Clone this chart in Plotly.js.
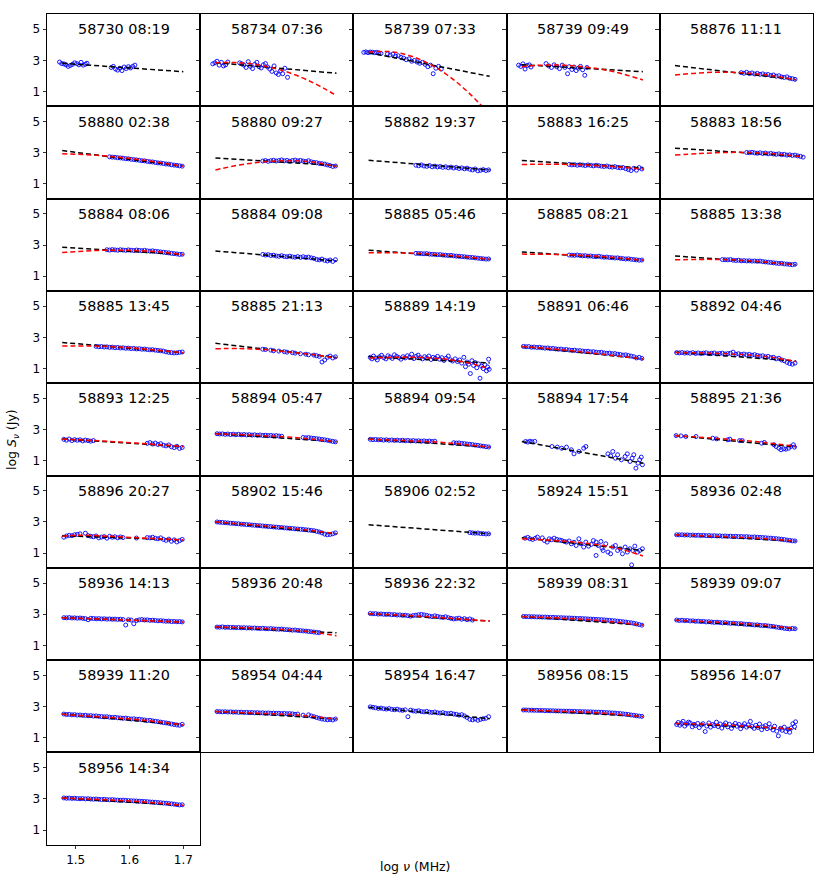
<!DOCTYPE html>
<html><head><meta charset="utf-8">
<script src="https://cdn.plot.ly/plotly-3.0.1.min.js"></script>
<style>html,body{margin:0;padding:0;background:#fff}#chart{width:830px;height:882px}</style>
</head><body><div id="chart"></div>
<script>
function gap(n){return new Array(n).fill(null);}

const titles = ["58730 08:19","58734 07:36","58739 07:33","58739 09:49","58876 11:11",
"58880 02:38","58880 09:27","58882 19:37","58883 16:25","58883 18:56",
"58884 08:06","58884 09:08","58885 05:46","58885 08:21","58885 13:38",
"58885 13:45","58885 21:13","58889 14:19","58891 06:46","58892 04:46",
"58893 12:25","58894 05:47","58894 09:54","58894 17:54","58895 21:36",
"58896 20:27","58902 15:46","58906 02:52","58924 15:51","58936 02:48",
"58936 14:13","58936 20:48","58936 22:32","58939 08:31","58939 09:07",
"58939 11:20","58954 04:44","58954 16:47","58956 08:15","58956 14:07",
"58956 14:34"];

const xTicks = [1.5, 1.6, 1.7];
const yTicks = [1, 3, 5];

// shared log-frequency channels (log MHz)
const chanX = [1.478,1.483,1.488,1.493,1.498,1.503,1.508,1.513,1.518,1.523,
1.528,1.533,1.538,1.543,1.548,1.553,1.558,1.563,1.568,1.573,
1.578,1.583,1.588,1.593,1.598,1.603,1.608,1.613,1.618,1.623,
1.628,1.633,1.638,1.643,1.648,1.653,1.658,1.663,1.668,1.673,
1.678,1.683,1.688,1.693,1.698];

const p1X = [1.470,1.474,1.478,1.482,1.486,1.490,1.494,1.498,1.502,1.506,1.510,1.514,1.518,1.521,
1.566,1.570,1.574,1.578,1.582,1.586,1.590,1.594,1.598,1.602,1.606,1.610];
const p1Y = [2.90,2.80,2.78,2.72,2.62,2.68,2.75,2.85,2.80,2.72,2.88,2.70,2.76,2.82,
2.55,2.62,2.45,2.38,2.50,2.35,2.58,2.48,2.60,2.52,2.62,2.70];
const p2X = [1.470,1.474,1.478,1.482,1.486,1.490,1.494,1.498,1.520,1.524,1.528,1.532,1.536,1.540,1.544,1.548,
1.552,1.556,1.560,1.564,1.568,1.572,1.576,1.580,1.584,1.588,1.592,1.596,1.600,1.604,1.609];
const p2Y = [2.78,2.85,2.95,2.70,2.88,2.65,2.72,2.90,2.85,2.78,2.70,2.55,2.92,2.62,2.48,2.75,
2.88,2.60,2.52,2.72,2.80,2.58,2.45,2.30,2.65,2.20,2.10,2.35,2.15,2.50,1.92];
const p3X = [1.466,1.470,1.474,1.478,1.482,1.486,1.490,1.494,1.498,1.510,1.515,1.520,1.525,1.530,1.535,
1.540,1.545,1.550,1.555,1.560,1.565,1.570,1.575,1.580,1.585,1.590,1.595,1.600,1.605,1.610];
const p3Y = [3.52,3.55,3.50,3.54,3.53,3.50,3.52,3.48,3.45,3.42,3.35,3.40,3.28,3.30,3.20,
3.15,3.05,3.10,2.95,3.00,2.90,2.82,2.88,2.75,2.60,2.70,2.15,2.50,2.62,2.45];
const p4X = [1.469,1.473,1.477,1.481,1.485,1.489,1.492,1.520,1.525,1.530,1.535,1.540,1.545,1.550,1.555,
1.560,1.563,1.568,1.572,1.576,1.580,1.584,1.588,1.592,1.596];
const p4Y = [2.70,2.62,2.78,2.45,2.68,2.72,2.58,2.80,2.65,2.55,2.72,2.60,2.48,2.70,2.55,
2.15,2.60,2.42,2.58,2.35,2.50,2.62,2.40,2.05,2.55];
const p10X = [1.608,1.613,1.618,1.623,1.628,1.633,1.638,1.643,1.648,1.653,1.658,1.663,1.668,1.673,1.678,
1.683,1.688,1.693,1.698,1.703,1.708,1.713];
const p10Y = [3.02,3.00,3.03,2.99,2.97,3.00,2.95,2.98,2.93,2.96,2.92,2.90,2.93,2.88,2.90,
2.85,2.87,2.83,2.85,2.80,2.77,2.72];
const p18X = [1.478,1.481,1.484,1.488,1.491,1.495,1.499,1.503,1.507,1.511,
1.515,1.519,1.523,1.527,1.531,1.535,1.539,1.543,1.547,1.551,
1.555,1.559,1.563,1.567,1.571,1.575,1.579,1.583,1.587,1.591,
1.595,1.599,1.603,1.607,1.611,1.615,1.619,1.623,1.627,1.631,
1.636,1.640,1.644,1.648,1.652,1.655,1.658,1.661,1.664,1.667,
1.670,1.673,1.676,1.679,1.682,1.685,1.688,1.691,1.694,1.696,1.698,1.699];
const p18Y = [1.72,1.62,1.80,1.68,1.55,1.75,1.85,1.70,1.62,1.82,
1.74,1.65,1.88,1.78,1.70,1.60,1.76,1.68,1.82,1.72,
1.92,1.64,1.78,1.86,1.70,1.62,1.76,1.68,1.80,1.58,
1.72,1.66,1.78,1.60,1.70,1.52,1.66,1.80,1.56,1.48,
1.62,1.45,1.55,1.35,1.72,1.12,1.42,1.28,0.68,1.50,
1.20,1.38,1.05,1.30,0.38,1.15,1.00,1.25,0.85,1.10,1.60,0.95];
const p24X = [1.482,1.486,1.490,1.494,1.499,
1.531,1.541,1.549,1.558,1.567,1.572,1.581,1.590,1.594,
1.635,1.640,1.644,1.649,1.653,1.660,1.667,1.671,1.676,1.680,1.683,1.687,1.691,1.694,1.697,1.699];
const p24Y = [2.24,2.20,2.26,2.22,2.25,
1.92,1.88,1.81,1.88,1.71,1.45,1.60,1.81,1.92,
1.45,1.32,1.60,1.17,1.39,1.07,1.28,1.45,0.96,1.17,1.39,0.53,0.85,1.07,1.24,0.75];
const p25X = [1.477,1.486,1.495,1.514,1.545,1.552,1.573,1.577,1.595,1.600,1.636,1.641,1.659,1.663,1.668,
1.672,1.677,1.681,1.686,1.690,1.695,1.697];
const p25Y = [2.62,2.60,2.56,2.56,2.45,2.41,2.35,2.39,2.30,2.30,2.13,2.18,2.03,1.92,1.81,
1.71,1.77,1.75,1.81,1.92,2.03,1.88];
const p29X = [1.481,1.486,1.490,1.495,1.500,1.504,1.513,1.517,1.522,1.526,
1.530,1.535,1.540,1.545,1.549,1.554,1.558,1.563,1.567,1.572,
1.576,1.581,1.585,1.590,1.594,1.599,1.604,1.608,1.613,1.613,
1.617,1.622,1.624,1.626,1.631,1.635,1.640,1.644,1.649,1.653,
1.658,1.662,1.667,1.671,1.676,1.679,1.681,1.685,1.690,1.694,1.699];
const p29Y = [1.96,2.01,1.92,1.88,1.95,2.03,1.98,1.81,1.71,1.92,
1.86,1.96,1.88,1.84,1.81,1.75,1.71,1.78,1.60,1.70,
1.49,1.92,1.60,1.39,1.71,1.45,1.56,1.81,1.71,0.85,
1.49,1.75,1.32,1.17,1.60,1.07,0.96,1.39,1.49,1.17,
1.28,0.96,1.39,1.07,1.28,0.25,1.17,1.45,1.07,1.17,1.28];
const p40X = [1.478,1.481,1.484,1.487,1.490,1.493,1.497,1.500,1.503,1.507,
1.510,1.513,1.517,1.520,1.524,1.527,1.531,1.534,1.538,1.541,
1.545,1.548,1.552,1.555,1.559,1.562,1.566,1.569,1.573,1.576,
1.580,1.583,1.587,1.590,1.594,1.597,1.601,1.604,1.608,1.611,
1.615,1.618,1.622,1.625,1.629,1.632,1.636,1.639,1.643,1.646,
1.650,1.653,1.657,1.660,1.664,1.667,1.671,1.674,1.678,1.681,
1.685,1.688,1.691,1.694,1.697,1.699];
const p40Y = [1.85,1.98,1.80,1.92,2.05,1.75,1.88,2.00,1.95,1.70,
1.86,1.78,1.92,1.65,1.82,1.90,1.40,1.75,1.95,1.68,
1.85,1.78,2.00,1.72,1.88,1.62,1.82,1.95,1.70,1.86,
1.60,1.78,1.92,1.74,1.85,1.58,1.76,1.90,1.68,1.82,
2.05,1.72,1.60,1.80,1.66,1.88,1.52,1.70,1.78,1.58,
1.90,1.64,1.50,1.74,1.42,1.12,1.60,1.48,1.68,1.40,
1.55,1.35,1.62,1.90,1.72,2.02];

const pointsX = [p1X,p2X,p3X,p4X,chanX, chanX,chanX,chanX,chanX,p10X,
chanX,chanX,chanX,chanX,chanX, chanX,chanX,p18X,chanX,chanX,
chanX,chanX,chanX,p24X,p25X, chanX,chanX,chanX,p29X,chanX,
chanX,chanX,chanX,chanX,chanX, chanX,chanX,chanX,chanX,p40X, chanX];

const pointsY = [
p1Y, p2Y, p3Y, p4Y,
[...gap(24),2.22,2.18,2.24,2.16,2.20,2.13,2.17,2.11,2.14,2.08,2.10,2.03,2.07,1.99,2.02,1.94,1.91,1.95,1.86,1.83,1.79],
[...gap(17),2.74,2.72,2.71,2.68,2.67,2.65,2.62,2.61,2.58,2.56,2.54,2.52,2.49,2.48,2.45,2.42,2.41,2.38,2.35,2.34,2.31,2.28,2.27,2.23,2.21,2.19,2.16,2.14],
[...gap(17),2.47,2.50,2.45,2.49,2.52,2.47,2.50,2.54,2.48,2.51,2.46,2.50,2.53,2.48,2.51,2.47,2.44,2.49,2.42,2.38,2.36,2.32,2.30,2.27,2.22,2.18,2.12,2.15],
[...gap(17),2.20,2.17,2.22,2.15,2.13,2.18,2.10,2.14,2.09,2.12,2.06,2.10,2.04,2.08,2.02,2.06,1.99,2.03,1.97,2.01,1.94,1.90,1.96,1.84,1.88,1.92,1.86,1.90],
[...gap(17),2.25,2.22,2.24,2.20,2.23,2.21,2.18,2.22,2.19,2.16,2.20,2.17,2.14,2.12,2.15,2.10,2.08,2.11,2.06,2.03,2.05,1.98,1.92,1.86,2.00,1.88,2.05,1.96],
p10Y,
[...gap(16),2.70,2.68,2.71,2.69,2.67,2.70,2.68,2.66,2.69,2.67,2.65,2.68,2.66,2.64,2.66,2.63,2.61,2.63,2.60,2.58,2.56,2.54,2.52,2.50,2.47,2.45,2.43,2.40,2.41],
[...gap(17),2.40,2.36,2.38,2.33,2.35,2.30,2.28,2.32,2.27,2.25,2.29,2.24,2.22,2.26,2.21,2.25,2.20,2.23,2.18,2.14,2.08,2.05,2.10,2.02,1.98,2.04,1.95,2.06],
[...gap(17),2.47,2.46,2.45,2.44,2.45,2.42,2.41,2.40,2.38,2.39,2.36,2.35,2.33,2.34,2.31,2.29,2.28,2.26,2.25,2.23,2.21,2.20,2.18,2.16,2.14,2.12,2.10,2.11],
[...gap(17),2.36,2.35,2.34,2.36,2.33,2.31,2.32,2.29,2.30,2.27,2.26,2.28,2.24,2.22,2.23,2.20,2.19,2.17,2.18,2.15,2.13,2.11,2.12,2.09,2.07,2.05,2.03,2.04],
[...gap(17),2.07,2.06,2.05,2.07,2.03,2.01,2.03,1.99,2.00,1.98,1.99,1.97,1.98,1.96,1.97,1.94,1.92,1.90,1.88,1.86,1.84,1.82,1.83,1.79,1.78,1.76,1.74,1.77],
[...gap(12),2.42,2.40,2.41,2.38,2.39,2.36,2.37,2.34,2.35,2.32,2.33,2.30,2.31,2.28,2.29,2.26,2.27,2.24,2.25,2.22,2.20,2.21,2.18,2.16,2.14,2.12,2.07,2.04,2.02,2.00,2.01,2.04,2.06],
[...gap(17),2.24,2.22,null,2.18,2.14,null,2.12,null,2.08,2.05,null,2.02,1.99,null,1.95,null,1.92,1.88,null,1.86,1.82,1.78,1.42,1.55,1.72,1.80,1.68,1.75],
p18Y,
[2.42,2.40,2.41,2.37,2.38,2.35,2.36,2.33,2.31,2.32,2.28,2.29,2.26,2.24,2.25,2.21,2.22,2.19,2.17,2.18,2.14,2.15,2.12,2.10,2.11,2.07,2.08,2.05,2.03,2.04,2.00,1.98,1.99,1.95,1.96,1.92,1.90,1.86,1.88,1.83,1.80,1.76,1.68,1.72,1.65],
[2.02,2.00,2.03,1.99,2.01,1.98,2.02,1.97,2.00,1.96,1.99,2.01,1.95,1.98,2.00,1.94,1.97,1.99,1.93,1.96,1.98,2.05,1.92,1.95,1.90,1.93,1.88,1.91,1.86,1.89,1.84,1.80,1.82,1.75,1.78,1.70,1.72,1.62,1.66,1.55,1.50,1.40,1.32,1.28,1.35],
[2.38,2.33,2.40,2.30,2.36,2.32,2.35,2.28,2.33,2.30,2.26,2.30,...gap(19),2.12,2.17,2.08,2.14,2.05,2.10,2.00,1.96,2.02,1.90,1.85,1.93,1.80,1.86],
[2.74,2.72,2.73,2.70,2.72,2.69,2.71,2.68,2.70,2.67,2.69,2.66,2.68,2.65,2.67,2.64,2.66,2.63,2.64,2.62,2.63,2.60,2.62,2.59,2.58,...gap(7),2.50,2.48,2.49,2.46,2.44,2.42,2.40,2.37,2.35,2.32,2.28,2.25,2.22],
[2.38,2.36,2.37,2.35,2.36,2.33,2.35,2.32,2.34,2.31,2.33,2.30,2.32,2.29,2.31,2.28,2.30,2.27,2.29,2.26,2.28,2.25,2.27,2.24,2.26,...gap(6),2.16,2.14,2.15,2.12,2.10,2.08,2.06,2.04,2.01,1.99,1.96,1.94,1.91,1.89],
p24Y, p25Y,
[2.02,2.10,2.14,2.12,2.18,2.20,2.24,null,2.28,2.12,2.08,2.05,2.10,1.98,2.03,2.06,1.96,2.08,2.02,2.05,1.98,2.04,2.00,null,null,null,null,1.97,null,null,null,2.00,1.98,2.02,1.95,1.92,1.98,1.88,1.82,1.90,1.76,1.85,1.72,1.80,1.88],
[3.00,2.98,2.97,2.95,2.94,2.92,2.91,2.89,2.88,2.86,2.85,2.83,2.82,2.80,2.79,2.77,2.76,2.74,2.73,2.71,2.70,2.68,2.67,2.65,2.64,2.62,2.61,2.59,2.58,2.56,2.55,2.53,2.52,2.50,2.48,2.46,2.44,2.40,2.36,2.30,2.22,2.18,2.20,2.24,2.30],
[...gap(37),2.32,2.30,2.28,2.29,2.26,2.25,2.23,2.24],
p29Y,
[2.18,2.17,2.18,2.16,2.17,2.15,2.16,2.14,2.15,2.13,2.14,2.12,2.13,2.11,2.12,2.10,2.11,2.09,2.10,2.08,2.09,2.07,2.08,2.06,2.07,2.05,2.06,2.04,2.03,2.04,2.02,2.01,2.00,1.99,1.97,1.96,1.94,1.93,1.91,1.89,1.87,1.84,1.82,1.79,1.78],
[2.78,2.77,2.79,2.76,2.77,2.75,2.76,2.74,2.72,2.65,2.74,2.73,2.71,2.72,2.70,2.71,2.69,2.70,2.68,2.69,2.67,2.68,2.66,2.31,2.65,2.63,2.39,2.60,2.64,2.66,2.63,2.64,2.61,2.62,2.60,2.58,2.59,2.57,2.55,2.56,2.53,2.54,2.52,2.53,2.51],
[2.18,2.17,2.19,2.16,2.17,2.15,2.16,2.14,2.15,2.13,2.14,2.12,2.13,2.11,2.12,2.10,2.09,2.10,2.08,2.07,2.08,2.06,2.05,2.04,2.05,2.02,2.01,2.00,1.98,1.99,1.96,1.95,1.93,1.92,1.90,1.88,1.86,1.84,1.82,...gap(6)],
[3.05,3.03,3.04,3.01,3.02,3.00,2.99,3.00,2.97,2.98,2.95,2.96,2.93,2.94,2.91,2.88,2.92,2.94,2.97,2.99,2.96,2.93,2.88,2.85,2.90,2.86,2.82,2.80,2.84,2.78,2.74,2.70,2.72,2.75,2.68,2.72,2.65,2.70,2.63,...gap(6)],
[2.86,2.85,2.85,2.84,2.84,2.83,2.83,2.82,2.82,2.81,2.80,2.80,2.79,2.78,2.78,2.77,2.76,2.76,2.75,2.74,2.73,2.73,2.72,2.71,2.70,2.69,2.68,2.67,2.66,2.65,2.64,2.62,2.61,2.59,2.58,2.56,2.54,2.52,2.50,2.47,2.45,2.42,2.38,2.34,2.30],
[2.63,2.60,2.62,2.59,2.60,2.57,2.58,2.55,2.56,2.53,2.54,2.51,2.52,2.50,2.48,2.49,2.47,2.45,2.46,2.44,2.42,2.43,2.41,2.39,2.40,2.37,2.35,2.36,2.33,2.31,2.32,2.29,2.27,2.28,2.25,2.23,2.21,2.18,2.15,2.13,2.10,2.08,2.06,2.09,2.07],
[2.52,2.49,2.50,2.47,2.48,2.45,2.46,2.43,2.44,2.41,2.42,2.39,2.40,2.37,2.36,2.34,2.35,2.32,2.30,2.31,2.28,2.27,2.25,2.26,2.23,2.20,2.22,2.18,2.19,2.16,2.14,2.10,2.12,2.08,2.06,2.03,2.00,1.97,1.95,1.92,1.88,1.85,1.82,1.80,1.86],
[2.68,2.67,2.66,2.67,2.65,2.66,2.64,2.65,2.63,2.64,2.62,2.63,2.61,2.62,2.60,2.61,2.59,2.60,2.58,2.59,2.57,2.58,2.56,2.57,2.55,2.56,2.54,2.55,2.53,2.50,2.52,null,2.45,null,2.47,2.40,2.35,2.30,2.25,2.20,2.18,2.15,2.17,2.14,2.20],
[2.98,2.95,2.92,2.88,2.90,2.86,2.84,2.87,2.82,2.80,2.83,2.78,2.76,2.79,2.35,2.77,2.72,2.70,2.73,2.68,2.66,2.69,2.64,2.62,2.65,2.60,2.58,2.61,2.56,2.54,2.57,2.52,2.50,2.45,2.48,2.40,2.30,2.18,2.15,2.20,2.12,2.18,2.22,2.25,2.35],
[2.78,2.78,2.77,2.77,2.76,2.76,2.75,2.75,2.74,2.74,2.73,2.73,2.72,2.72,2.71,2.71,2.70,2.70,2.69,2.69,2.68,2.68,2.67,2.67,2.66,2.66,2.65,2.64,2.64,2.63,2.62,2.61,2.60,2.59,2.58,2.56,2.55,2.53,2.51,2.49,2.46,2.44,2.41,2.39,2.37],
p40Y,
[3.06,3.04,3.05,3.03,3.04,3.02,3.01,3.02,3.00,3.01,2.99,2.98,2.99,2.97,2.96,2.97,2.95,2.94,2.95,2.93,2.92,2.91,2.92,2.90,2.89,2.88,2.87,2.86,2.85,2.84,2.83,2.82,2.80,2.79,2.78,2.76,2.75,2.73,2.72,2.70,2.68,2.66,2.63,2.61,2.62]
];

// linear (power-law) fit: endpoints
const fitXStart = 1.475;
const fitXEnd = [1.70,1.70,1.70,1.70,1.70, 1.70,1.70,1.70,1.70,1.713,
1.70,1.70,1.70,1.70,1.70, 1.70,1.70,1.70,1.70,1.70, 1.70,1.70,1.70,1.70,1.70,
1.70,1.70,1.70,1.70,1.70, 1.70,1.70,1.70,1.70,1.70, 1.70,1.70,1.70,1.70,1.70, 1.70];
const linY0 = [2.82,2.86,3.50,2.73,2.67, 3.14,2.67,2.52,2.50,3.29, 2.86,2.62,2.67,2.56,2.30,
2.67,2.62,1.76,2.42,2.05, 2.40,2.75,2.40,2.24,2.62, 2.12,3.00,2.82,1.98,2.18,
2.78,2.18,3.03,2.86,2.62, 2.52,2.68,2.95,2.79,1.92, 3.06];
const linY1 = [2.28,2.18,1.98,2.28,1.77, 2.13,2.18,1.90,2.03,2.76, 2.39,1.98,2.09,2.03,1.75,
2.01,1.71,1.36,1.62,1.48, 1.92,2.23,1.88,0.85,1.90, 1.85,2.25,2.24,1.17,1.77,
2.50,1.81,2.56,2.30,2.08, 1.82,2.20,2.22,2.36,1.55, 2.58];

// curved fit: points
const curveX = [
null,
[1.475,1.52,1.56,1.60,1.633,1.66,1.68,1.70],
[1.475,1.50,1.52,1.54,1.56,1.58,1.60,1.62,1.64,1.66,1.68,1.70],
[1.475,1.50,1.55,1.60,1.65,1.70],
[1.475,1.52,1.56,1.60,1.65,1.70],
[1.475,1.52,1.56,1.60,1.65,1.70],
[1.475,1.52,1.56,1.60,1.64,1.67,1.70],
null,
[1.475,1.55,1.60,1.65,1.70],
[1.475,1.52,1.57,1.62,1.66,1.713],
[1.475,1.52,1.56,1.60,1.65,1.70],
null,
[1.475,1.56,1.62,1.70],
[1.475,1.56,1.62,1.70],
[1.475,1.55,1.62,1.70],
[1.475,1.56,1.62,1.70],
[1.475,1.52,1.57,1.62,1.66,1.70],
[1.478,1.53,1.58,1.63,1.67,1.70],
[1.475,1.55,1.62,1.70],
[1.475,1.55,1.62,1.66,1.70],
[1.475,1.55,1.62,1.70],
[1.475,1.55,1.62,1.70],
[1.475,1.55,1.62,1.70],
null,
[1.475,1.56,1.64,1.70],
[1.475,1.50,1.55,1.62,1.70],
[1.475,1.55,1.62,1.70],
null,
[1.475,1.55,1.62,1.66,1.70],
[1.475,1.55,1.62,1.70],
[1.475,1.58,1.70],
[1.475,1.55,1.60,1.65,1.70],
[1.475,1.55,1.62,1.70],
[1.475,1.55,1.62,1.70],
[1.475,1.55,1.62,1.70],
[1.475,1.55,1.62,1.70],
[1.475,1.55,1.62,1.70],
null,
[1.475,1.55,1.62,1.70],
[1.475,1.55,1.62,1.70],
[1.475,1.55,1.62,1.70]
];
const curveY = [
null,
[2.85,2.86,2.69,2.35,1.94,1.51,1.15,0.74],
[3.55,3.58,3.55,3.42,3.21,2.92,2.55,2.10,1.57,0.96,0.27,-0.50],
[2.60,2.68,2.70,2.55,2.25,1.75],
[2.07,2.20,2.25,2.21,2.05,1.76],
[2.93,2.88,2.78,2.64,2.41,2.13],
[1.90,2.22,2.40,2.49,2.46,2.33,2.11],
null,
[2.25,2.26,2.20,2.10,1.95],
[2.85,2.95,3.02,3.01,2.93,2.74],
[2.52,2.62,2.67,2.66,2.58,2.38],
null,
[2.50,2.48,2.35,2.10],
[2.42,2.38,2.27,2.03],
[2.05,2.08,1.98,1.72],
[2.45,2.42,2.28,2.02],
[2.27,2.28,2.20,2.02,1.88,1.66],
[1.68,1.73,1.70,1.55,1.28,0.98],
[2.42,2.20,1.94,1.62],
[2.03,1.98,1.85,1.70,1.45],
[2.40,2.27,2.12,1.92],
[2.74,2.64,2.50,2.22],
[2.39,2.29,2.16,1.88],
null,
[2.62,2.42,2.18,1.92],
[2.08,2.15,2.10,1.98,1.85],
[3.00,2.80,2.58,2.25],
null,
[1.92,1.78,1.52,1.25,0.82],
[2.18,2.08,1.98,1.77],
[2.78,2.65,2.50],
[2.19,2.11,2.02,1.88,1.62],
[3.03,2.92,2.76,2.56],
[2.85,2.75,2.60,2.30],
[2.62,2.50,2.36,2.08],
[2.50,2.33,2.15,1.82],
[2.68,2.58,2.48,2.20],
null,
[2.78,2.70,2.60,2.35],
[1.92,1.85,1.72,1.55],
[3.05,2.95,2.82,2.58]
];

// ---------- figure construction ----------
const W = 830, H = 882;
const L0 = 47, T0 = 14, PW = 153.2, PH = 92.3;
const NCOL = 5;
const FONT = 'DejaVu Sans, Liberation Sans, sans-serif';
const dashPat = '5px,3px';

const traces = [];
const layout = {
  width: W, height: H,
  margin: {l: 0, r: 0, t: 0, b: 0},
  showlegend: false,
  paper_bgcolor: 'white', plot_bgcolor: 'white',
  font: {family: FONT, color: 'black', size: 12},
  annotations: []
};

titles.forEach((t, k) => {
  const r = Math.floor(k / NCOL), c = k % NCOL;
  const x0 = (L0 + c * PW) / W, x1 = (L0 + (c + 1) * PW) / W;
  const yTop = 1 - (T0 + r * PH) / H, yBot = 1 - (T0 + (r + 1) * PH) / H;
  const sfx = k === 0 ? '' : String(k + 1);
  const xa = 'x' + sfx, ya = 'y' + sfx;
  const isLast = k === titles.length - 1;
  const xAxis = {
    domain: [x0, x1], range: [1.4467, 1.7314], anchor: ya,
    showgrid: false, zeroline: false, showline: true, mirror: true,
    linecolor: 'black', linewidth: 1, ticks: '', showticklabels: false
  };
  if (isLast) {
    Object.assign(xAxis, {
      ticks: 'outside', tickmode: 'array', tickvals: xTicks, ticktext: xTicks.map(v => v.toFixed(1)),
      showticklabels: true, ticklen: 3.5, tickwidth: 0.8, tickcolor: 'black',
      tickfont: {size: 12, family: FONT, color: 'black'}
    });
  }
  layout['xaxis' + sfx] = xAxis;
  layout['yaxis' + sfx] = {
    domain: [yBot, yTop], range: [0.06, 5.98], anchor: xa,
    showgrid: false, zeroline: false, showline: true, mirror: true,
    linecolor: 'black', linewidth: 1,
    ticks: 'outside', tickmode: 'array', tickvals: yTicks, ticktext: yTicks.map(String),
    showticklabels: c === 0, ticklen: 3.5, tickwidth: 0.8, tickcolor: 'black',
    tickfont: {size: 12, family: FONT, color: 'black'}
  };
  traces.push({
    x: pointsX[k], y: pointsY[k], xaxis: xa, yaxis: ya,
    type: 'scatter', mode: 'markers', hoverinfo: 'skip',
    marker: {symbol: 'circle-open', size: 4.0, color: 'blue', line: {width: 0.9, color: 'blue'}}
  });
  traces.push({
    x: [fitXStart, fitXEnd[k]], y: [linY0[k], linY1[k]], xaxis: xa, yaxis: ya,
    type: 'scatter', mode: 'lines', hoverinfo: 'skip',
    line: {color: 'black', width: 1.5, dash: dashPat}
  });
  if (curveX[k]) {
    traces.push({
      x: curveX[k], y: curveY[k], xaxis: xa, yaxis: ya,
      type: 'scatter', mode: 'lines', hoverinfo: 'skip',
      line: {color: 'red', width: 1.5, dash: dashPat, shape: 'spline', smoothing: 1}
    });
  }
  layout.annotations.push({
    text: t, xref: 'paper', yref: 'paper', x: (x0 + x1) / 2, y: yTop - 15.3 / H,
    xanchor: 'center', yanchor: 'middle', showarrow: false,
    font: {size: 14.4, family: FONT, color: 'black'}
  });
});

layout.annotations.push({
  text: 'log <i>ν</i> (MHz)', xref: 'paper', yref: 'paper', x: 0.5, y: 1 - 866.5 / H,
  xanchor: 'center', yanchor: 'middle', showarrow: false,
  font: {size: 12.5, family: FONT, color: 'black'}
});
layout.annotations.push({
  text: 'log <i>S</i><sub><i>ν</i></sub> (Jy)', xref: 'paper', yref: 'paper', x: 12 / W, y: 1 - 440 / H,
  xanchor: 'center', yanchor: 'middle', showarrow: false, textangle: -90,
  font: {size: 12.5, family: FONT, color: 'black'}
});

Plotly.newPlot('chart', traces, layout, {staticPlot: true, displayModeBar: false});
</script>
</body></html>
